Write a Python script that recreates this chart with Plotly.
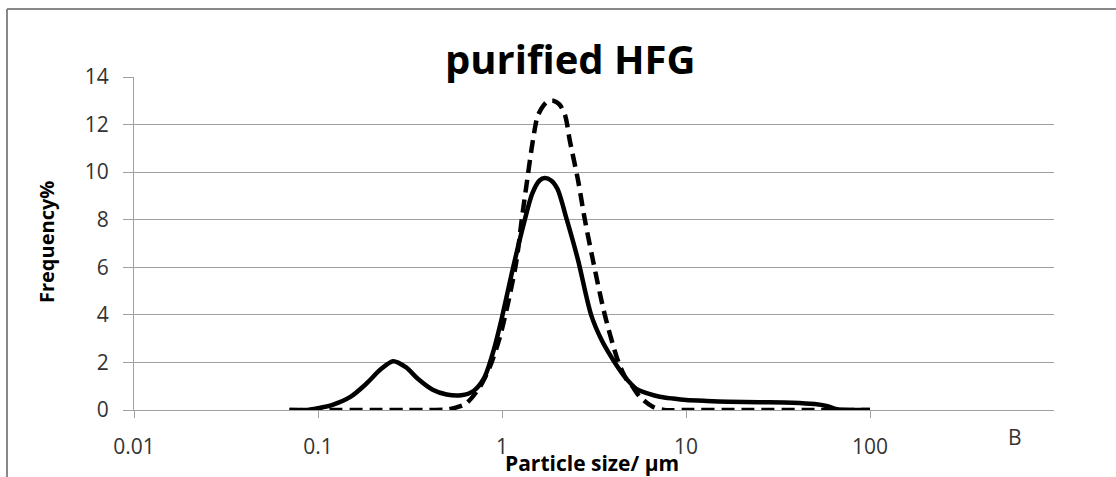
import plotly.graph_objects as go

# Particle size distribution, purified HFG (log-scale size axis)
size_solid = [0.07, 0.085, 0.1, 0.12, 0.15, 0.18, 0.22, 0.256, 0.3, 0.35, 0.42, 0.5,
              0.6, 0.7, 0.8, 0.9, 1.0, 1.15, 1.3, 1.46, 1.6, 1.71, 1.85, 2.0, 2.25,
              2.59, 3.05, 3.5, 4.1, 4.7, 5.4, 6.3, 7.2, 8.5, 10, 13, 17, 25, 38, 50,
              58, 66, 80, 100]
freq_solid = [0, 0, 0.08, 0.22, 0.55, 1.05, 1.72, 2.05, 1.8, 1.3, 0.85, 0.65,
              0.62, 0.8, 1.35, 2.5, 3.9, 6.0, 7.7, 9.1, 9.65, 9.75, 9.65, 9.3, 8.0,
              6.3, 4.0, 2.9, 2.0, 1.35, 0.88, 0.68, 0.56, 0.48, 0.42, 0.38, 0.35,
              0.33, 0.31, 0.25, 0.17, 0.03, 0, 0]

size_dash = [0.07, 0.1, 0.2, 0.3, 0.4, 0.5, 0.56, 0.64, 0.76, 0.86, 0.975, 1.1,
             1.2, 1.28, 1.37, 1.47, 1.57, 1.75, 1.9, 2.05, 2.2, 2.34, 2.59, 2.82,
             3.12, 3.62, 4.3, 4.76, 5.1, 5.6, 6.6, 7.6, 10, 20, 50, 100]
freq_dash = [0, 0, 0, 0, 0, 0.02, 0.1, 0.28, 0.98, 1.82, 3.08, 4.8,
             6.3, 8.0, 9.66, 11.3, 12.4, 12.95, 13.0, 12.85, 12.4, 11.3, 9.66, 8.0,
             6.3, 4.0, 2.0, 1.27, 1.0, 0.56, 0.14, 0, 0, 0, 0, 0]

x_ticks = [0.01, 0.1, 1, 10, 100]
x_tick_text = ["0.01", "0.1", "1", "10", "100"]
y_ticks = [0, 2, 4, 6, 8, 10, 12, 14]

FONT = "Open Sans"
GRID = "#a0a0a0"
TICK_COLOR = "#333333"

fig = go.Figure()
fig.add_trace(go.Scatter(x=size_solid, y=freq_solid, mode="lines",
                         line=dict(color="black", width=4.5, shape="spline", smoothing=0.8),
                         showlegend=False))
fig.add_trace(go.Scatter(x=size_dash, y=freq_dash, mode="lines",
                         line=dict(color="black", width=4.5, shape="spline", smoothing=0.8,
                                   dash="13px,7px"),
                         showlegend=False))

W, H = 1116, 477
L, R, T, B = 134, 62, 77, 67
pw, ph = W - L - R, H - T - B


def px(xp):
    return (xp - L) / pw


def py(yp):
    return (H - B - yp) / ph


fig.update_layout(
    width=W, height=H,
    margin=dict(l=L, r=R, t=T, b=B),
    paper_bgcolor="white", plot_bgcolor="white",
    font=dict(family=FONT, color=TICK_COLOR),
    xaxis=dict(type="log", range=[-2, 3], tickvals=x_ticks, ticktext=x_tick_text,
               showgrid=False, zeroline=False, showline=True, linecolor=GRID,
               linewidth=1, ticks="outside", ticklen=7, tickcolor=GRID,
               tickfont=dict(size=21, color=TICK_COLOR), ticklabelstandoff=11),
    yaxis=dict(range=[0, 14], tickvals=y_ticks, showgrid=True, gridcolor=GRID,
               gridwidth=1, zeroline=False, showline=True, linecolor=GRID,
               linewidth=1, ticks="outside", ticklen=10, tickcolor=GRID,
               tickfont=dict(size=21, color=TICK_COLOR), ticklabelstandoff=10),
    shapes=[
        dict(type="line", xref="paper", yref="paper", x0=px(7), x1=px(7),
             y0=py(9), y1=py(H), line=dict(color="#888888", width=2)),
        dict(type="line", xref="paper", yref="paper", x0=px(7), x1=px(W),
             y0=py(9), y1=py(9), line=dict(color="#888888", width=2)),
    ],
    annotations=[
        dict(text="<b>purified HFG</b>", xref="paper", yref="paper",
             x=px(570), y=py(58), xanchor="center", yanchor="middle",
             showarrow=False, font=dict(size=40, color="black", family=FONT)),
        dict(text="<b>Particle size/ μm</b>", xref="paper", yref="paper",
             x=px(592), y=py(463), xanchor="center", yanchor="middle",
             showarrow=False, font=dict(size=21, color="black", family=FONT)),
        dict(text="<b>Frequency%</b>", xref="paper", yref="paper",
             x=px(46), y=py(242), xanchor="center", yanchor="middle", textangle=-90,
             showarrow=False, font=dict(size=20, color="black", family=FONT)),
        dict(text="B", xref="paper", yref="paper",
             x=px(1015), y=py(437), xanchor="center", yanchor="middle",
             showarrow=False, font=dict(size=21, color=TICK_COLOR, family=FONT)),
    ],
)

fig.write_html("out.html")
